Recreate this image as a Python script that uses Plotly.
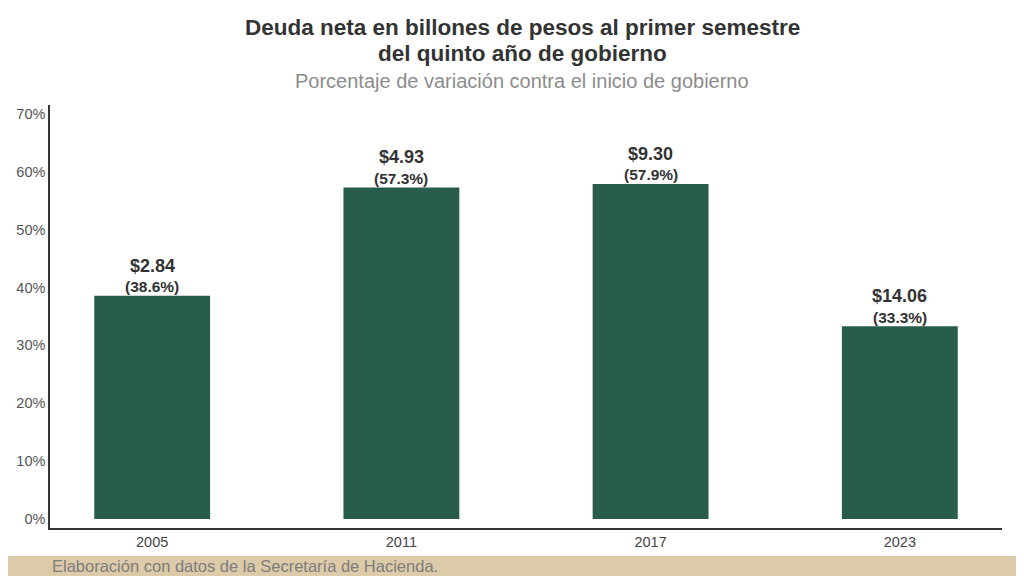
import plotly.graph_objects as go

# data
years = ["2005", "2011", "2017", "2023"]
pct_change = [38.6, 57.3, 57.9, 33.3]
debt_trillions = [2.84, 4.93, 9.30, 14.06]
y_ticks = [0, 10, 20, 30, 40, 50, 60, 70]

BAR_COLOR = "#285c4d"
TEXT_DARK = "#333333"
FONT = "Liberation Sans, Arial, sans-serif"

fig = go.Figure()

fig.add_trace(
    go.Bar(
        x=years,
        y=pct_change,
        marker=dict(color=BAR_COLOR, line=dict(width=0)),
        width=0.465,
        hoverinfo="skip",
    )
)

# value labels above each bar (x given as category index)
for i, (pct, debt) in enumerate(zip(pct_change, debt_trillions)):
    fig.add_annotation(
        x=i, y=pct, xref="x", yref="y",
        text=f"<b>${debt:.2f}</b>",
        showarrow=False, yanchor="middle", yshift=30,
        font=dict(family=FONT, size=18, color=TEXT_DARK),
    )
    fig.add_annotation(
        x=i, y=pct, xref="x", yref="y",
        text=f"<b>({pct:.1f}%)</b>",
        showarrow=False, yanchor="middle", yshift=9,
        font=dict(family=FONT, size=15.5, color=TEXT_DARK),
    )

# title (two lines, tight spacing), subtitle and source note
title_lines = ["Deuda neta en billones de pesos al primer semestre",
               "del quinto año de gobierno"]
for line, ypos in zip(title_lines, [1.183, 1.121]):
    fig.add_annotation(
        x=0.496, y=ypos, xref="paper", yref="paper",
        text=f"<b>{line}</b>",
        showarrow=False, xanchor="center", yanchor="middle",
        font=dict(family=FONT, size=22.5, color=TEXT_DARK),
    )
fig.add_annotation(
    x=0.496, y=1.056, xref="paper", yref="paper",
    text="Porcentaje de variación contra el inicio de gobierno",
    showarrow=False, xanchor="center", yanchor="middle",
    font=dict(family=FONT, size=20, color="#8c8c8c"),
)
fig.add_annotation(
    x=0.0, y=-0.09, xref="paper", yref="paper",
    text="Elaboración con datos de la Secretaría de Hacienda.",
    showarrow=False, xanchor="left", yanchor="middle",
    font=dict(family=FONT, size=16.5, color="#7d7d7d"),
)

# beige band at the bottom
fig.add_shape(
    type="rect", xref="paper", yref="paper",
    x0=-0.06, x1=1.05, y0=-0.066, y1=-0.2,
    fillcolor="#dccaa8", line=dict(width=0), layer="below",
)

fig.update_layout(
    width=1024,
    height=576,
    margin=dict(l=42, r=30, t=97, b=56),
    paper_bgcolor="white",
    plot_bgcolor="rgba(0,0,0,0)",
    showlegend=False,
    font=dict(family=FONT, color="#555555"),
    xaxis=dict(
        type="category",
        range=[-0.41, 3.41],
        showline=True, linecolor="#333333", linewidth=1.5,
        showgrid=False, ticks="",
        tickfont=dict(size=14.5, color="#444444"),
        automargin=False,
        fixedrange=True,
    ),
    yaxis=dict(
        range=[-1.56, 71.55],
        tickvals=y_ticks,
        ticktext=[f"{v}%" for v in y_ticks],
        showline=True, linecolor="#333333", linewidth=1.5,
        showgrid=False, zeroline=False, ticks="",
        tickfont=dict(size=14.5, color="#555555"),
        automargin=False,
        fixedrange=True,
    ),
)

fig.write_html("out.html")
